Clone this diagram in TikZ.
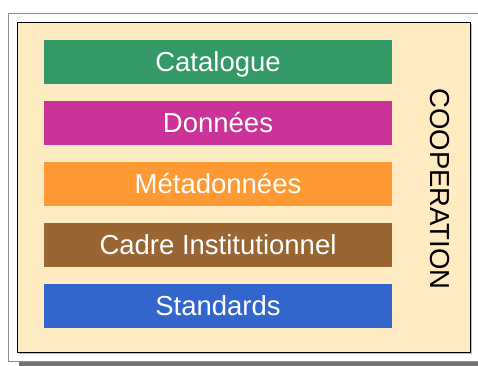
\documentclass[tikz,border=0pt]{standalone}
\usepackage{fontspec}
\setmainfont{Liberation Sans}
\definecolor{cream}{HTML}{FFEBC2}
\definecolor{cgreen}{HTML}{339966}
\definecolor{cmag}{HTML}{CC3399}
\definecolor{corange}{HTML}{FF9933}
\definecolor{cbrown}{HTML}{996633}
\definecolor{cblue}{HTML}{3366CC}
\tikzset{
  bigtext/.style={font=\fontsize{27.5}{30}\selectfont, text height=19.7pt, text depth=0pt},
  layer/.style={bigtext, minimum width=348pt, minimum height=44pt, inner sep=0pt, text=white,
    anchor=center},
}
\begin{document}
\begin{tikzpicture}[x=1pt,y=-1pt]
\useasboundingbox (0,0) rectangle (478,365);
\fill[white] (0,0) rectangle (478,365);
% outer frame
\draw[fill=white, draw=black!45, line width=1pt] (8,13) rectangle (490,361);
\fill[black!55] (19,362) rectangle (490,366);
% inner frame
\fill[black!25] (19,24) rectangle (472,354);
\draw[fill=cream, draw=black, line width=1pt] (17,22) rectangle (470,352);
% layers
\node[layer, fill=cgreen]  (cat) at (218,61.5)  {Catalogue};
\node[layer, fill=cmag]    (don) at (218,122.5) {Données};
\node[layer, fill=corange] (met) at (218,183.5) {Métadonnées};
\node[layer, fill=cbrown]  (cad) at (218,244.5) {Cadre Institutionnel};
\node[layer, fill=cblue]   (std) at (218,305.5) {Standards};
\node[bigtext, rotate=-90, inner sep=0pt] (coop) at (440.5,189) {COOPERATION};
\end{tikzpicture}
\end{document}
